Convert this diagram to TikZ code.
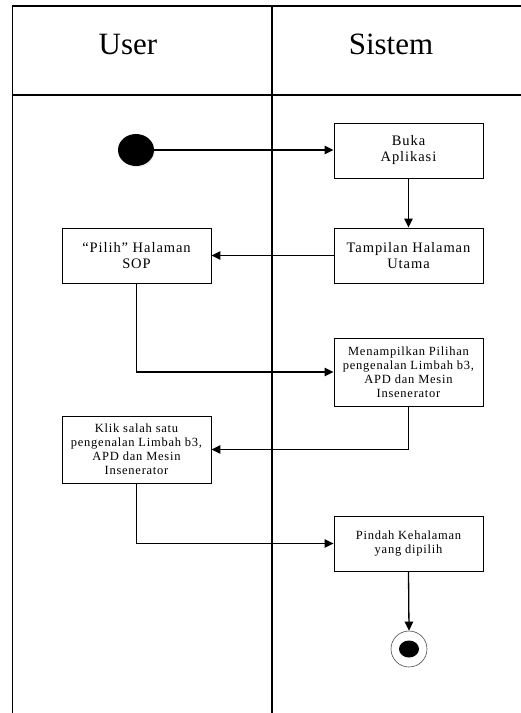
\documentclass[tikz,border=0pt]{standalone}
\usepackage{fontspec}
\setmainfont{Liberation Serif}
\newfontfamily\widebig[LetterSpace=6.5]{Liberation Serif}
\newfontfamily\widesmall[LetterSpace=6]{Liberation Serif}
\usetikzlibrary{arrows.meta,shapes.geometric,shadows}

\tikzset{
  lane/.style={line width=1.3pt, black},
  act/.style={draw, line width=0.9pt, fill=white, minimum width=149pt,
    align=center, inner sep=2pt,
    drop shadow={opacity=0.18, shadow xshift=1.2pt, shadow yshift=-1.2pt}},
  bigtxt/.style={font=\widebig\fontsize{14.5}{16}\selectfont},
  smalltxt/.style={font=\widesmall\fontsize{12.5}{14}\selectfont},
  flow/.style={line width=1.3pt, -{Triangle[length=9pt,width=8.5pt]}},
  lanetitle/.style={font=\fontsize{31}{36}\selectfont},
}

\begin{document}
\begin{tikzpicture}[x=1pt,y=-1pt]
  \useasboundingbox (0,0) rectangle (521,713);
  \clip (0,0) rectangle (521,713);
  \fill[white] (0,0) rectangle (521,713);

  % swimlane frame
  \draw[lane] (12.5,713) -- (12.5,6) -- (530,6);
  \draw[lane] (12.5,95) -- (530,95);
  \draw[lane] (272,6) -- (272,713);

  % lane titles
  \node[lanetitle] (tuser) at (128,44) {User};
  \node[lanetitle] (tsys) at (391,44) {Sistem};

  % initial state
  \node[ellipse, fill=black, minimum width=36pt, minimum height=32pt,
        inner sep=0pt,
        drop shadow={opacity=0.15, shadow xshift=1pt, shadow yshift=-1pt}] (start) at (136,150) {};

  % activities
  \node[act, bigtxt, minimum height=55pt] (buka) at (408.5,150.5) {Buka\\Aplikasi};
  \node[act, bigtxt, minimum height=55pt] (utama) at (408.5,255.5) {Tampilan Halaman\\Utama};
  \node[act, bigtxt, minimum height=55pt] (pilih) at (136.5,255.5) {“Pilih” Halaman\\SOP};
  \node[act, smalltxt, minimum height=68pt] (tampil) at (408.5,372) {Menampilkan Pilihan\\pengenalan Limbah b3,\\APD dan Mesin\\Insenerator};
  \node[act, smalltxt, minimum height=67pt] (klik) at (136.5,449.5) {Klik salah satu\\pengenalan Limbah b3,\\APD dan Mesin\\Insenerator};
  \node[act, smalltxt, minimum height=55pt] (pindah) at (408.5,543.5) {Pindah Kehalaman\\yang dipilih};

  % final state
  \node[circle, draw=black!70, line width=0.6pt, minimum size=36pt, inner sep=0pt] (finish) at (409,649) {};
  \node[ellipse, fill=black, minimum width=20pt, minimum height=17pt, inner sep=0pt] (finishdot) at (409,649) {};

  % control flow
  \draw[flow] (start) -- (buka.west |- start);
  \draw[flow] (buka) -- (utama);
  \draw[flow] (utama) -- (pilih);
  \draw[flow] (pilih.south) |- (tampil.west);
  \draw[flow] (tampil.south) |- (klik.east);
  \draw[flow] (klik.south) |- (pindah.west);
  \draw[flow] (pindah.south) -- (finish.north);
\end{tikzpicture}
\end{document}
